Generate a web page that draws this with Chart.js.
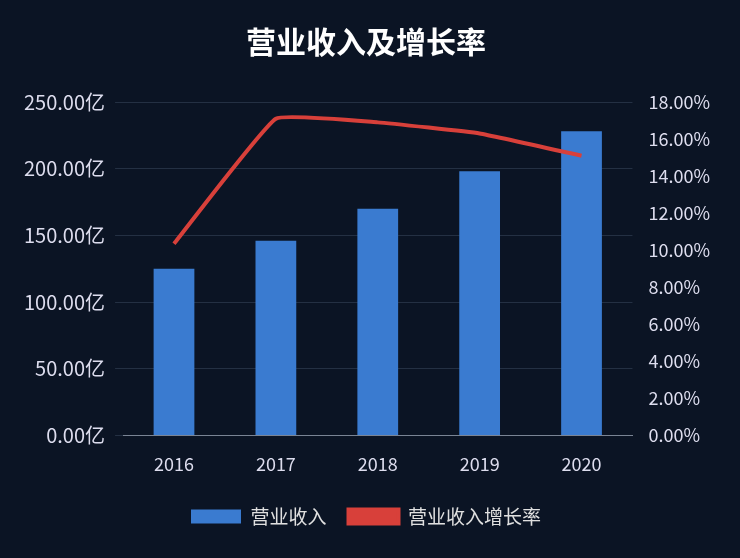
<!DOCTYPE html>
<html><head><meta charset="utf-8">
<script src="https://cdn.jsdelivr.net/npm/chart.js@4"></script>
<style>html,body{margin:0;padding:0;background:#0b1424;}#w{width:740px;height:558px;}</style>
</head><body><div id="w"><canvas id="c"></canvas></div>
<script>
const categories = ['2016','2017','2018','2019','2020'];
const revenue = [125, 146, 170, 198, 228];
const growth = [10.35, 17.1, 16.9, 16.3, 15.1];
const F = '"Noto Sans CJK SC","Noto Sans",sans-serif';
new Chart(document.getElementById('c'), {
  data: { labels: categories, datasets: [
    { type:'line', label:'营业收入增长率', data: growth, yAxisID:'y1', borderColor:'#d8403a', backgroundColor:'#d8403a', borderWidth:4, pointRadius:0, tension:0.1, order:0 },
    { type:'bar', label:'营业收入', data: revenue, yAxisID:'y', backgroundColor:'#3a7bd0', barPercentage:0.4, categoryPercentage:1, order:1 }
  ]},
  options: { responsive:true, maintainAspectRatio:false, animation:false,
    layout:{padding:{left:14,right:22,top:12,bottom:22}},
    plugins:{
      title:{display:true, text:'营业收入及增长率', color:'#ffffff', font:{family:F,size:30,weight:'bold'}, padding:{top:12,bottom:42}},
      legend:{position:'bottom', reverse:true, labels:{color:'#e0e0e0', font:{family:F,size:19}, boxWidth:50, boxHeight:14, padding:22}}
    },
    scales:{
      x:{ grid:{display:false}, border:{color:'#7a8494'}, ticks:{color:'#dde', font:{family:F,size:18}, padding:10}},
      y:{ min:0, max:250, ticks:{stepSize:50, color:'#dde', font:{family:F,size:20}, callback:v=>v.toFixed(2)+'亿', padding:10}, grid:{color:'#243043'}, border:{display:false}},
      y1:{ position:'right', min:0, max:18, ticks:{stepSize:2, color:'#dde', font:{family:F,size:18}, callback:v=>v.toFixed(2)+'%', padding:8}, grid:{display:false}, border:{display:false}}
    }
  }
});
</script></body></html>
